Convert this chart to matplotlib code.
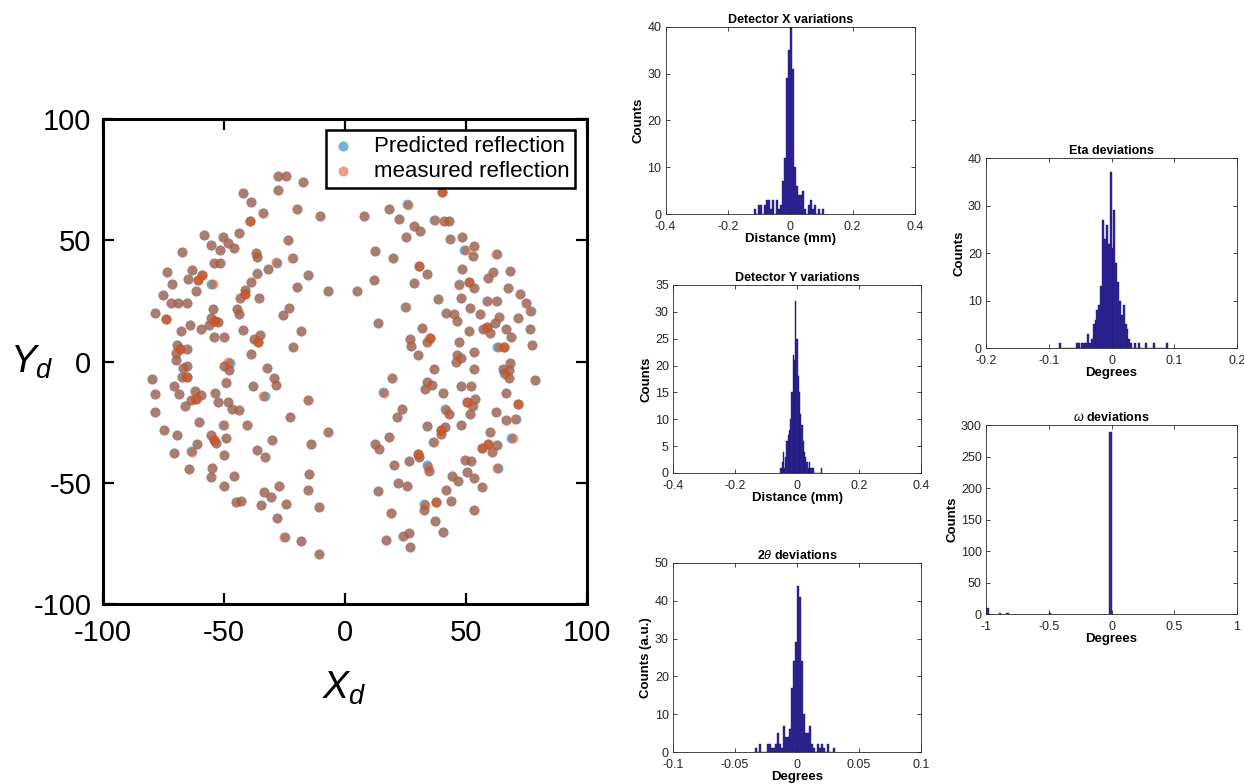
import numpy as np
import matplotlib
matplotlib.use('Agg')
import matplotlib.pyplot as plt
from matplotlib import ticker

plt.rcParams['font.family'] = ['Liberation Sans', 'DejaVu Sans']
plt.rcParams['axes.unicode_minus'] = False
plt.rcParams['mathtext.fontset'] = 'custom'
plt.rcParams['mathtext.it'] = 'Liberation Sans:italic'
plt.rcParams['mathtext.rm'] = 'Liberation Sans'

# measured reflection positions on the detector
xd = [-27.6, -24.0, -17.2, -27.4, -42.1, -38.5, -33.7, -19.8, -10.0, -39.0,
      -58.1, -50.4, -43.5, -55.3, -48.3, -45.8, -51.3, -67.2, -23.4, -36.6,
      -36.2, -21.8, -28.3, -54.0, -51.6, -31.8, -62.9, -73.2, -58.8, -36.0,
      -64.6, -60.7, -15.2, -38.6, -71.1, -54.5, -19.5, -61.4, -41.3, -6.9,
      -74.8, -41.3, -43.2, -35.4, -71.8, -68.7, -65.2, -22.9, -78.5, -54.5,
      -44.6, -43.6, -25.3, -73.7, -55.3, -53.4, -52.4, -63.7, -55.8, -59.5,
      -67.5, -41.9, -17.8, -35.0, -53.8, -49.6, -37.5, -35.6, -69.4, -68.0,
      -65.0, -21.1, -69.8, -38.6, -69.6, -48.0, -49.7, -65.0, -66.7, -32.1,
      -79.4, -67.2, -65.0, -49.1, -29.1, -28.5, -37.7, -70.6, -78.5, -68.2,
      -53.4, -61.9, -59.1, -61.5, -63.5, -48.2, -33.6, -52.2, -15.2, -65.9,
      -46.7, -43.5, -78.5, -22.6, -60.3, -49.6, -40.5, -74.7, -7.0, -69.4,
      -55.3, -54.1, -53.1, -48.8, -30.0, -60.8, -13.8, -70.3, -63.1, -36.0,
      -49.6, -32.8, -64.1, -54.6, -55.3, -45.8, -14.5, -50.0, -27.1, -33.2,
      -30.4, -15.2, -45.0, -42.8, -34.4, -24.1, -10.6, -28.0, -25.2, -17.9,
      -10.6,
      40.1, 26.1, 18.2, 7.9, 22.4, 37.4, 41.1, 43.1, 28.9, 31.3,
      25.3, 43.6, 48.4, 53.3, 50.0, 53.0, 62.5, 12.7, 20.0, 30.6,
      48.6, 34.1, 61.4, 68.4, 12.1, 28.5, 59.2, 51.6, 53.3, 47.3,
      67.6, 5.2, 72.6, 38.6, 48.1, 58.8, 62.6, 75.1, 25.5, 52.0,
      76.5, 42.0, 45.4, 55.8, 63.9, 13.7, 46.3, 71.8, 62.1, 58.8,
      32.0, 57.3, 51.6, 66.8, 76.5, 60.2, 27.0, 35.2, 34.1, 27.6,
      47.4, 68.8, 77.6, 63.7, 65.7, 30.2, 46.5, 48.0, 53.3, 68.2,
      37.1, 53.3, 65.4, 46.1, 68.0, 66.5, 67.8, 19.6, 78.9, 34.1,
      36.3, 33.2, 48.0, 52.2, 16.4, 40.5, 66.8, 53.9, 50.7, 52.6,
      71.7, 23.9, 41.9, 43.2, 52.0, 62.5, 21.5, 66.9, 70.3, 33.9,
      41.6, 48.2, 39.8, 40.0, 60.0, 18.2, 36.9, 69.5, 12.5, 14.1,
      59.3, 56.9, 62.9, 61.0, 30.4, 30.9, 26.6, 49.6, 52.3, 20.4,
      34.4, 35.0, 50.4, 62.9, 44.4, 46.9, 53.4, 22.1, 26.0, 13.9,
      56.8, 42.0, 37.9, 33.3, 32.7, 43.9, 53.3, 19.1, 37.4, 24.3,
      26.7, 40.8, 17.1, 27.0,
      -47.6]
yd = [76.6, 76.3, 74.1, 70.9, 69.4, 65.8, 61.2, 62.7, 60.0, 58.1,
      52.2, 51.2, 52.8, 48.1, 49.0, 47.0, 46.0, 45.0, 49.9, 44.9,
      43.1, 42.7, 41.0, 40.8, 40.8, 38.0, 37.6, 36.9, 35.8, 36.2,
      34.2, 33.6, 35.5, 32.9, 31.8, 32.1, 30.7, 29.0, 29.3, 28.9,
      27.5, 27.7, 26.3, 26.0, 24.0, 24.3, 24.3, 22.2, 20.2, 21.6,
      21.5, 19.7, 19.3, 17.4, 18.1, 16.7, 16.2, 15.0, 15.0, 13.2,
      12.4, 12.9, 12.7, 11.0, 10.0, 10.0, 9.1, 8.0, 6.9, 5.2,
      5.0, 6.1, 3.6, 3.3, 0.5, -0.3, -1.7, -1.7, -2.8, -2.6,
      -7.2, -6.5, -6.5, -8.3, -6.8, -9.5, -9.9, -10.2, -13.5, -13.5,
      -12.9, -12.0, -13.8, -15.4, -15.7, -16.5, -14.3, -16.9, -16.0, -18.5,
      -19.7, -20.2, -20.9, -22.7, -24.9, -26.3, -26.2, -28.2, -29.2, -30.4,
      -30.4, -32.2, -33.6, -31.4, -32.5, -34.2, -34.2, -37.7, -37.3, -36.5,
      -38.6, -39.5, -44.3, -43.9, -47.8, -47.2, -46.2, -51.5, -51.5, -53.8,
      -55.7, -53.0, -58.0, -57.7, -59.2, -58.7, -60.2, -64.6, -72.2, -74.0,
      -79.5,
      69.7, 64.5, 62.7, 60.0, 58.7, 58.3, 57.9, 58.1, 55.7, 53.8,
      51.2, 50.4, 51.2, 47.5, 45.9, 43.5, 44.3, 45.7, 42.7, 39.4,
      38.1, 36.2, 37.1, 37.5, 33.8, 32.2, 34.3, 32.9, 30.4, 31.5,
      30.3, 28.9, 27.8, 25.6, 26.2, 24.8, 24.8, 24.1, 22.4, 22.0,
      20.7, 20.1, 19.5, 19.7, 18.2, 15.7, 16.5, 17.8, 15.7, 14.2,
      14.0, 13.5, 12.7, 13.2, 13.5, 11.9, 9.4, 9.6, 8.1, 6.5,
      8.1, 10.0, 6.9, 5.9, 5.9, 2.8, 2.8, 1.4, 3.8, -0.5,
      -3.0, -3.0, -3.0, -0.1, -3.6, -5.1, -6.7, -6.7, -7.7, -8.3,
      -9.5, -11.3, -9.9, -10.3, -12.9, -13.1, -12.9, -15.3, -16.8, -18.2,
      -17.5, -19.7, -19.8, -21.8, -21.8, -20.7, -22.7, -24.3, -23.8, -26.4,
      -26.9, -26.2, -28.1, -30.0, -29.1, -31.1, -33.2, -31.7, -34.2, -35.9,
      -33.9, -35.5, -34.6, -37.5, -38.0, -39.4, -41.2, -40.8, -40.9, -42.7,
      -43.3, -45.2, -45.5, -44.1, -47.1, -49.2, -48.2, -50.1, -51.4, -53.2,
      -51.9, -52.9, -58.0, -59.0, -61.2, -57.4, -61.2, -62.4, -65.6, -71.9,
      -70.7, -70.5, -73.8, -76.6,
      -3.3]

# reflections where the predicted spot sits a little off the measured one
shift_idx = [21, 22, 29, 35, 75, 83, 96, 105, 118, 138, 142, 146, 155, 157,
             170, 177, 179, 181, 204, 216, 225, 230, 233, 239, 247, 248,
             261, 264, 274]
shift_dx = [0.6, 0.6, -0.2, -0.6, 0.5, 0.2, 0.6, -0.6, -0.5, 0.6, -0.4, -0.6,
            -0.6, 0.6, -0.2, 0.6, -0.6, 0.6, -0.6, -0.6, -0.6, 0.6, -0.4,
            0.6, -0.5, -0.6, -0.3, 0.6, -0.6]
shift_dy = [0.0, -0.2, 0.5, 0.0, -0.4, -0.6, 0.0, 0.0, 0.4, 0.0, 0.5, 0.1,
            0.2, 0.0, 0.5, 0.1, 0.0, 0.2, 0.0, 0.3, 0.2, 0.0, 0.4, 0.0, 0.2,
            0.0, 0.5, 0.0, 0.2]
# spots measured twice (darker orange)
double_idx = [9, 28, 31, 41, 53, 55, 67, 69, 82, 93, 111, 141, 160, 168,
              190, 198, 205, 229, 231, 243, 251, 252, 255, 273]

# histogram bins: first edge, bin width and counts
detx_start, detx_width = -0.1152, 0.0064
detx_counts = [1, 0, 2, 2, 0, 2, 3, 3, 1, 3, 0, 3, 1, 2, 7, 12, 29, 35, 40, 31,
               10, 6, 4, 4, 5, 1, 0, 2, 3, 1, 2, 0, 1, 0, 1]
dety_start, dety_width = -0.054, 0.004
dety_counts = [1, 2, 4, 1, 3, 6, 7, 8, 10, 15, 22, 21, 32, 25, 18, 15, 11, 9,
               6, 4, 3, 2, 1, 2, 1, 1, 1, 0, 0, 0, 0, 0, 0, 1]
tth_start, tth_width = -0.0336, 0.0016
tth_counts = [1, 0, 2, 0, 0, 0, 2, 2, 1, 1, 2, 5, 2, 1, 7, 4, 4, 6, 17, 24,
              29, 44, 41, 24, 10, 5, 5, 7, 2, 1, 0, 2, 1, 2, 1, 0, 2, 0, 0, 1]
eta_start, eta_width = -0.084, 0.003
eta_counts = [1, 0, 0, 0, 0, 0, 0, 0, 0, 1, 1, 0, 1, 1, 1, 3, 1, 2, 5, 6,
              8, 9, 13, 27, 23, 26, 22, 37, 21, 29, 18, 14, 10, 7, 9, 5, 4, 2,
              1, 0, 1, 0, 1, 0, 0, 0, 1, 0, 0, 0, 1, 0, 0, 0, 0, 0, 0, 1]
om_left = [-1.0, -0.9, -0.84, -0.5, -0.02]
om_width = 0.02
om_counts = [9, 1, 1, 1, 289]

blue = (0.0, 0.447, 0.741)
orange = (0.85, 0.325, 0.098)
bar_face = '#31269a'
bar_edge = '#1d156e'

fig = plt.figure(figsize=(12.44, 7.84), dpi=100)

# ---- detector scatter ----
ax = fig.add_axes([0.0824, 0.2296, 0.3891, 0.6186])
mx = np.array(xd)
my = np.array(yd)
px = mx.copy()
py = my.copy()
px[shift_idx] += np.array(shift_dx)
py[shift_idx] += np.array(shift_dy)

ax.scatter(px, py, s=52, color=blue, alpha=0.55, linewidths=0,
           label='Predicted reflection')
ax.scatter(mx, my, s=52, color=orange, alpha=0.55, linewidths=0,
           label='measured reflection')
ax.scatter(mx[double_idx], my[double_idx], s=52, color=orange, alpha=0.5,
           linewidths=0)
ax.set_xlim(-100, 100)
ax.set_ylim(-100, 100)
ax.set_xticks([-100, -50, 0, 50, 100])
ax.set_yticks([-100, -50, 0, 50, 100])
ax.tick_params(direction='in', length=8, width=1.6, labelsize=21,
               top=True, right=True)
ax.tick_params(axis='x', pad=11)
ax.tick_params(axis='y', pad=8)
for s in ax.spines.values():
    s.set_linewidth(2.2)
leg = ax.legend(loc='upper right', fontsize=16, fancybox=False,
                framealpha=1, edgecolor='black', handlelength=1.0,
                handletextpad=0.9, borderpad=0.25, labelspacing=0.2,
                borderaxespad=0.5)
leg.get_frame().set_linewidth(1.8)
fig.text(0.277, 0.122, '$X_d$', fontsize=28, ha='center', va='center')
fig.text(0.026, 0.538, '$Y_d$', fontsize=28, ha='center', va='center')


def draw_hist(rect, left, width, counts, xlim, xticks, ylim, yticks,
              title, xlabel, ylabel):
    h = fig.add_axes(rect)
    h.bar(left, counts, width=width, align='edge', color=bar_face,
          edgecolor=bar_edge, linewidth=0.3)
    h.set_xlim(*xlim)
    h.set_ylim(*ylim)
    h.set_xticks(xticks)
    h.set_yticks(yticks)
    h.xaxis.set_major_formatter(ticker.FormatStrFormatter('%g'))
    h.tick_params(direction='in', length=3, width=0.6, labelsize=9,
                  top=True, right=True, colors='#262626')
    h.tick_params(axis='x', pad=5)
    h.tick_params(axis='y', pad=3)
    for s in h.spines.values():
        s.set_linewidth(0.6)
        s.set_color('#262626')
    h.set_title(title, fontsize=9, fontweight='bold', pad=3)
    h.set_xlabel(xlabel, fontsize=9.5, fontweight='bold', labelpad=0)
    h.set_ylabel(ylabel, fontsize=9.5, fontweight='bold', labelpad=2)
    return h


detx_left = detx_start + detx_width * np.arange(len(detx_counts))
dety_left = dety_start + dety_width * np.arange(len(dety_counts))
tth_left = tth_start + tth_width * np.arange(len(tth_counts))
eta_left = eta_start + eta_width * np.arange(len(eta_counts))

draw_hist([0.5351, 0.7270, 0.2004, 0.2389], detx_left, detx_width, detx_counts,
          (-0.4, 0.4), [-0.4, -0.2, 0, 0.2, 0.4], (0, 40), range(0, 41, 10),
          'Detector X variations', 'Distance (mm)', 'Counts')
draw_hist([0.5410, 0.3967, 0.1994, 0.2398], dety_left, dety_width, dety_counts,
          (-0.4, 0.4), [-0.4, -0.2, 0, 0.2, 0.4], (0, 35), range(0, 36, 5),
          'Detector Y variations', 'Distance (mm)', 'Counts')
draw_hist([0.5410, 0.0408, 0.1994, 0.2411], tth_left, tth_width, tth_counts,
          (-0.1, 0.1), [-0.1, -0.05, 0, 0.05, 0.1], (0, 50), range(0, 51, 10),
          r'2$\theta$ deviations', 'Degrees', 'Counts (a.u.)')
draw_hist([0.7926, 0.5561, 0.2018, 0.2423], eta_left, eta_width, eta_counts,
          (-0.2, 0.2), [-0.2, -0.1, 0, 0.1, 0.2], (0, 40), range(0, 41, 10),
          'Eta deviations', 'Degrees', 'Counts')
draw_hist([0.7926, 0.2168, 0.2018, 0.2411], om_left, om_width, om_counts,
          (-1, 1), [-1, -0.5, 0, 0.5, 1], (0, 300), range(0, 301, 50),
          r'$\omega$ deviations', 'Degrees', 'Counts')

fig.savefig('out.png', dpi=100)
